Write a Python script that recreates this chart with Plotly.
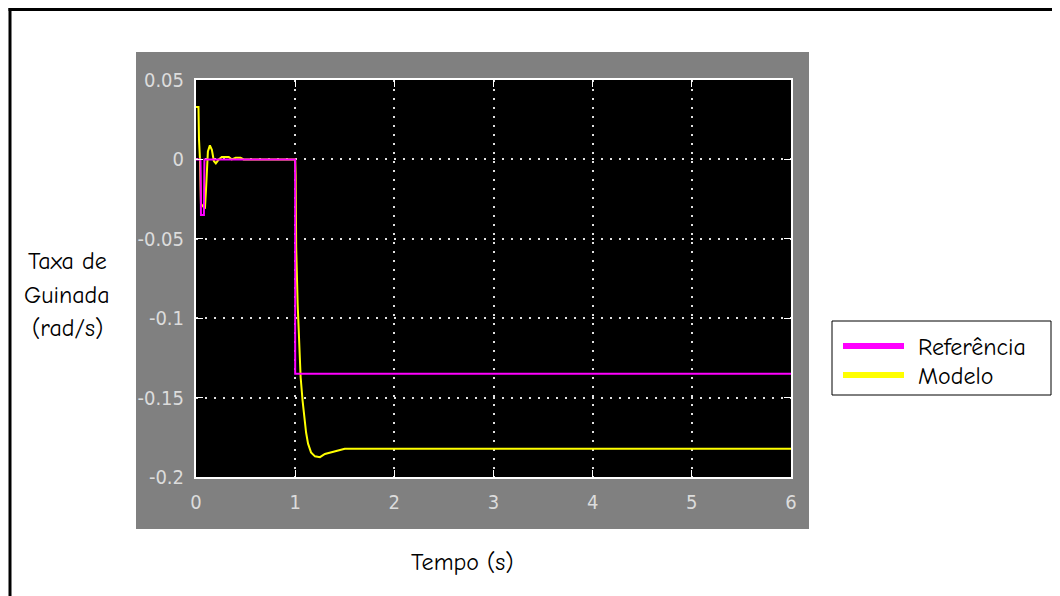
import plotly.graph_objects as go

# ---- data ----
ref_t = [0, 0.045, 0.05, 0.08, 0.085, 1.0, 1.0, 6.0]
ref_y = [0, 0, -0.035, -0.035, 0, 0, -0.135, -0.135]

model_t = [0, 0.025, 0.03, 0.04, 0.05, 0.09, 0.10, 0.12, 0.14, 0.16, 0.18, 0.20, 0.23,
           0.26, 0.33, 0.36, 0.40, 0.45, 0.48, 0.98, 1.0, 1.005, 1.01, 1.025, 1.04, 1.055,
           1.075, 1.09, 1.11, 1.13, 1.16, 1.20, 1.25, 1.30, 1.40, 1.50, 6.0]
model_y = [0.033, 0.033, 0.013, 0.0, -0.028, -0.031, -0.02, 0.005, 0.0088, 0.006, -0.001,
           -0.0025, 0.0, 0.0015, 0.0015, 0.0, 0.001, 0.001, 0.0, 0.0, 0.0, -0.01, -0.055,
           -0.091, -0.116, -0.137, -0.152, -0.162, -0.172, -0.179, -0.1845, -0.187, -0.1875,
           -0.1855, -0.1838, -0.1822, -0.1822]

x_ticks = [0, 1, 2, 3, 4, 5, 6]
y_ticks = [0.05, 0, -0.05, -0.1, -0.15, -0.2]
y_ticktext = ["0.05", "0", "-0.05", "-0.1", "-0.15", "-0.2"]

series_names = ["Referência", "Modelo"]
series_colors = ["#ff00ff", "#ffff00"]
y_title_lines = ["Taxa de", "Guinada", "(rad/s)"]
x_title = "Tempo (s)"

# ---- layout geometry (page pixels; page has an 8px body margin) ----
OFF = 8
W, H = 1060 - OFF, 596 - OFF
L, R, T, B = 196 - OFF, 791 - OFF, 80 - OFF, 477 - OFF
pw, ph = R - L, B - T


def px(x):
    return (x - OFF - L) / pw


def py(y):
    return (B - (y - OFF)) / ph


comic = "Comic Sans MS, Comic Neue, DejaVu Sans, sans-serif"
tickfont = dict(family="Liberation Sans Narrow, DejaVu Sans Condensed, Arial Narrow, sans-serif",
                size=20, color="#dcdcdc")

fig = go.Figure()
fig.add_trace(go.Scatter(x=model_t, y=model_y, mode="lines", name=series_names[1],
                         line=dict(color=series_colors[1], width=2), showlegend=False))
fig.add_trace(go.Scatter(x=ref_t, y=ref_y, mode="lines", name=series_names[0],
                         line=dict(color=series_colors[0], width=2), showlegend=False))

shapes = [
    # outer frame: top and left edges
    dict(type="line", xref="paper", yref="paper", x0=px(8.5), x1=px(1060), y0=py(9.6), y1=py(9.6),
         line=dict(color="black", width=3), layer="below"),
    dict(type="line", xref="paper", yref="paper", x0=px(10), x1=px(10), y0=py(8), y1=py(596),
         line=dict(color="black", width=3), layer="below"),
    # gray panel
    dict(type="rect", xref="paper", yref="paper", x0=px(136), x1=px(809), y0=py(529), y1=py(52),
         line=dict(width=0), fillcolor="#808080", layer="below"),
    # black plot area
    dict(type="rect", xref="paper", yref="paper", x0=0, x1=1, y0=0, y1=1,
         line=dict(width=0), fillcolor="black", layer="below"),
    # legend box
    dict(type="rect", xref="paper", yref="paper", x0=px(832), x1=px(1051), y0=py(395), y1=py(321),
         line=dict(color="black", width=1), fillcolor="white", layer="above"),
]
annotations = []
leg_y = [346, 375]
for name, col, yy in zip(series_names, series_colors, leg_y):
    shapes.append(dict(type="line", xref="paper", yref="paper", x0=px(843), x1=px(904),
                       y0=py(yy), y1=py(yy), line=dict(color=col, width=6), layer="above"))
    annotations.append(dict(xref="paper", yref="paper", x=px(916), y=py(yy + 1), text=name,
                            showarrow=False, xanchor="left", yanchor="middle",
                            font=dict(family=comic, size=24, color="black")))

for line_txt, yy in zip(y_title_lines, [261, 295, 328]):
    annotations.append(dict(xref="paper", yref="paper", x=px(67), y=py(yy),
                            text=line_txt, showarrow=False,
                            xanchor="center", yanchor="middle",
                            font=dict(family=comic, size=24, color="black")))
annotations.append(dict(xref="paper", yref="paper", x=px(462), y=py(562),
                        text=x_title, showarrow=False,
                        xanchor="center", yanchor="middle",
                        font=dict(family=comic, size=24, color="black")))

fig.update_layout(
    width=W, height=H,
    margin=dict(l=L, r=W - R, t=T, b=H - B, pad=0),
    paper_bgcolor="white", plot_bgcolor="black",
    shapes=shapes, annotations=annotations, showlegend=False,
)
fig.update_xaxes(range=[0, 6], tickvals=x_ticks, ticks="inside", ticklen=7, tickcolor="white",
                 showline=True, linecolor="white", linewidth=2, mirror="ticks",
                 showgrid=True, gridcolor="#e0e0e0", gridwidth=2, griddash="2px,7px",
                 zeroline=False, tickfont=tickfont, ticklabelstandoff=6)
fig.update_yaxes(range=[-0.2, 0.05], tickvals=y_ticks, ticktext=y_ticktext, ticks="inside",
                 ticklen=7, tickcolor="white",
                 showline=True, linecolor="white", linewidth=2, mirror="ticks",
                 showgrid=True, gridcolor="#e0e0e0", gridwidth=2, griddash="2px,7px",
                 zeroline=False, tickfont=tickfont, ticklabelstandoff=6)

fig.write_html("out.html")
